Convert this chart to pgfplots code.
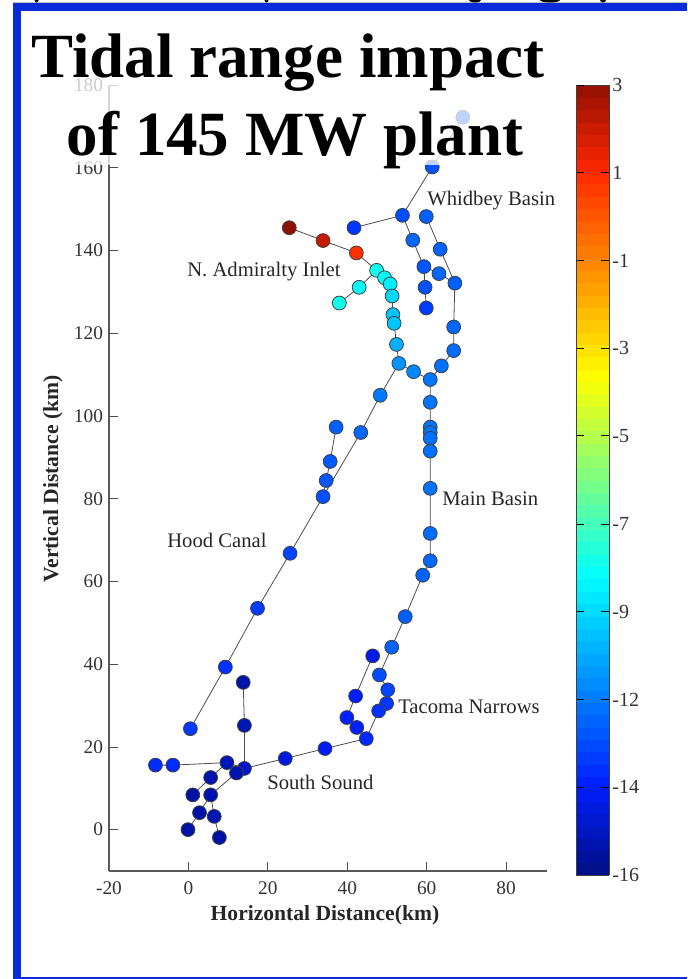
\documentclass[border=0pt]{standalone}
\usepackage{pgfplots}
\pgfplotsset{compat=1.18}
\usepackage{fontspec}
\setmainfont{Liberation Serif}
\definecolor{framecol}{RGB}{10,43,216}
\pgfplotsset{colormap={tec}{rgb255(0)=(0,15,130) rgb255(90)=(0,30,255) rgb255(298)=(0,255,255) rgb255(498)=(255,255,0) rgb255(703)=(255,40,0) rgb255(790)=(145,15,0)}}
\pgfplotstableread{
X Y C
69.1 172.2 -12.7
61.4 160.2 -12.7
53.9 148.5 -12.8
41.7 145.5 -13.3
25.4 145.5 3.0
33.9 142.4 2.0
42.3 139.4 0.7
47.4 135.2 -8.5
49.4 133.4 -8.9
50.8 131.9 -9.2
51.3 129.0 -9.7
51.5 124.5 -10.2
51.8 122.4 -10.1
52.4 117.3 -10.6
53.0 112.7 -11.2
56.7 110.7 -11.5
60.9 108.8 -11.9
63.7 112.1 -12.0
66.8 115.8 -12.1
66.8 121.5 -12.2
67.1 132.1 -12.4
63.1 134.4 -12.2
63.4 140.3 -12.3
59.9 148.2 -12.4
56.5 142.5 -12.2
59.3 136.1 -12.6
59.6 131.1 -12.7
59.9 126.1 -13.2
43.0 131.1 -8.9
38.0 127.3 -8.5
60.9 103.3 -11.9
60.9 97.3 -11.9
60.9 96.0 -11.9
60.9 94.6 -12.0
60.9 91.5 -12.0
60.9 82.5 -12.0
60.9 71.6 -12.1
60.9 65.0 -12.2
59.0 61.5 -12.3
54.6 51.5 -12.4
51.2 44.1 -12.3
48.1 37.4 -12.8
50.2 33.8 -13.0
49.9 30.5 -13.3
47.9 28.7 -13.4
44.8 22.0 -13.6
46.4 42.0 -14.2
42.1 32.3 -13.9
39.9 27.1 -13.8
42.4 24.7 -13.8
34.4 19.6 -14.0
24.4 17.2 -14.4
14.1 14.8 -14.8
12.1 13.7 -15.2
9.7 16.2 -15.0
14.1 25.2 -15.1
13.8 35.6 -15.3
-3.9 15.6 -13.5
-8.3 15.6 -13.5
5.6 12.6 -15.2
1.1 8.4 -15.4
5.6 8.4 -15.2
2.8 4.1 -15.4
6.5 3.2 -15.2
-0.1 0.0 -15.4
7.8 -1.9 -15.4
9.3 39.3 -13.4
0.5 24.4 -13.2
17.4 53.5 -13.2
25.6 66.8 -13.0
33.9 80.5 -12.7
34.7 84.4 -12.6
35.7 89.0 -12.5
37.2 97.3 -12.4
43.4 96.0 -12.2
48.3 105.0 -11.8
}\stations
\begin{document}
\begin{tikzpicture}[x=0.75pt,y=-0.75pt]
\useasboundingbox (0,0) rectangle (687,979);
\begin{scope}
\clip (0,0) rectangle (687,979);
\begin{axis}[
  at={(109pt*0.75,871pt*-0.75)}, anchor=south west,
  scale only axis, width=328.5pt, height=589.5pt,
  xmin=-20, xmax=90.3, ymin=-10, ymax=180,
  axis x line*=bottom, axis y line*=left,
  axis line style={draw=black!65, line width=0.8pt, -},
  xtick={-20,0,20,40,60,80},
  ytick={0,20,40,60,80,100,120,140,160,180},
  tick align=inside,
  major tick length=7pt,
  tick style={draw=black!70, line width=0.6pt},
  /pgf/number format/assume math mode=true,
  ticklabel style={font=\fontsize{14.5}{14.5}\selectfont, text=black!80},
  xticklabel style={yshift=-4.5pt},
  yticklabel style={xshift=-1pt},
  xlabel={\textbf{Horizontal Distance(km)}},
  ylabel={\textbf{Vertical Distance (km)}},
  label style={font=\fontsize{16.2}{16.2}\selectfont, text=black!85},
  xlabel style={at={(axis description cs:0.493,0)}, anchor=center, yshift=-33pt},
  ylabel style={at={(axis description cs:-0.128,0.499)}, anchor=center},
  colormap name=tec,
  point meta min=-16, point meta max=3,
  clip=false,
  seg/.style={draw=black!70, line width=0.6pt, no markers, forget plot},
]
\addplot[seg] coordinates {(69.1,172.2)(61.4,160.2)(53.9,148.5)(41.7,145.5)};
\addplot[seg] coordinates {(25.4,145.5)(33.9,142.4)(42.3,139.4)(47.4,135.2)(43.0,131.1)(38.0,127.3)};
\addplot[seg] coordinates {(47.4,135.2)(49.4,133.4)(50.8,131.9)(51.3,129.0)(51.5,124.5)(51.8,122.4)(52.4,117.3)(53.0,112.7)(56.7,110.7)(60.9,108.8)(63.7,112.1)(66.8,115.8)(66.8,121.5)(67.1,132.1)(63.4,140.3)(59.9,148.2)};
\addplot[seg] coordinates {(53.9,148.5)(56.5,142.5)(59.3,136.1)(59.6,131.1)(59.9,126.1)};
\addplot[seg] coordinates {(59.3,136.1)(63.1,134.4)(67.1,132.1)};
\addplot[seg] coordinates {(60.9,108.8)(60.9,103.3)(60.9,97.3)(60.9,94.6)(60.9,91.5)(60.9,82.5)(60.9,71.6)(60.9,65.0)(59.0,61.5)(54.6,51.5)(51.2,44.1)(48.1,37.4)(50.2,33.8)(49.9,30.5)(47.9,28.7)(44.8,22.0)(34.4,19.6)(24.4,17.2)(14.1,14.8)(12.1,13.7)(5.6,8.4)(2.8,4.1)(-0.1,0.0)};
\addplot[seg] coordinates {(44.8,22.0)(42.4,24.7)(39.9,27.1)(42.1,32.3)(46.4,42.0)};
\addplot[seg] coordinates {(14.1,14.8)(14.1,25.2)(13.8,35.6)};
\addplot[seg] coordinates {(14.1,14.8)(9.7,16.2)(-3.9,15.6)(-8.3,15.6)};
\addplot[seg] coordinates {(9.7,16.2)(5.6,12.6)(1.1,8.4)};
\addplot[seg] coordinates {(5.6,8.4)(6.5,3.2)(7.8,-1.9)};
\addplot[seg] coordinates {(53.0,112.7)(48.3,105.0)(43.4,96.0)(33.9,80.5)(25.6,66.8)(17.4,53.5)(9.3,39.3)(0.5,24.4)};
\addplot[seg] coordinates {(33.9,80.5)(34.7,84.4)(35.7,89.0)(37.2,97.3)};
\addplot[scatter, only marks, mark=*, mark size=5.2pt,
  scatter/use mapped color={draw=black!75, fill=mapped color},
  mark options={line width=0.6pt},
  point meta=explicit] table[x=X,y=Y,meta=C] {\stations};
\end{axis}
\end{scope}
\begin{axis}[
  at={(576pt*0.75,875pt*-0.75)}, anchor=south west,
  scale only axis, width=24.75pt, height=592.5pt,
  hide axis, colormap name=tec, point meta min=-16, point meta max=3,
  colorbar sampled, colorbar right,
  colorbar style={at={(0,0)}, anchor=south west, width=24.75pt, height=592.5pt,
    samples=65, xshift=0pt, 
    ytick={-16,-13.89,-11.78,-9.67,-7.56,-5.44,-3.33,-1.22,0.89,3},
    yticklabels={-16,-14,-12,-9,-7,-5,-3,-1,1,3},
    ytick pos=both, yticklabel pos=right, tick align=inside,
    major tick length=6pt,
    tick style={draw=black, line width=0.7pt},
    axis line style={draw=black!75, line width=0.7pt},
    ticklabel style={font=\fontsize{15}{15}\selectfont, text=black!80, xshift=-1pt},
    /pgf/number format/assume math mode=true},
  xmin=0, xmax=1, ymin=0, ymax=1,
]
\addplot[draw=none, forget plot] coordinates {(0,0)(1,1)};
\end{axis}
\tikzset{place/.style={font=\fontsize{15.5}{15.5}\selectfont, text=black!85, anchor=west, inner sep=0pt}}
\node[place] at (427,201) {Whidbey Basin};
\node[place] at (187,272) {N. Admiralty Inlet};
\node[place] at (442,499) {Main Basin};
\node[place] at (167,540) {Hood Canal};
\node[place] at (398,707) {Tacoma Narrows};
\node[place] at (267,782) {South Sound};
\fill[white, opacity=0.75] (21,11) rectangle (565,165);
\fill[black!25] (13,2.4) rectangle (687,3);
\fill[framecol] (13,3) rectangle (687,11);
\fill[framecol] (13,3) rectangle (21,979);
\fill[framecol] (13,977) rectangle (687,979);
\begin{scope}
\clip (0,0) rectangle (687,2.6);
\fill[black] (36.5,0) ellipse (2 and 2.5);
\fill[black] (266.5,0) ellipse (2 and 2.5);
\fill[black] (475,0) ellipse (6 and 2.5);
\fill[black] (550,0) ellipse (10 and 2.5);
\fill[black] (603,0) ellipse (3 and 2.5);
\end{scope}
\node[font=\fontsize{47.2}{47.2}\selectfont\bfseries, anchor=base, text=black] at (288,77) {Tidal range impact};
\node[font=\fontsize{47.2}{47.2}\selectfont\bfseries, anchor=base, text=black] at (295,155) {of 145 MW plant};
\end{tikzpicture}
\end{document}
